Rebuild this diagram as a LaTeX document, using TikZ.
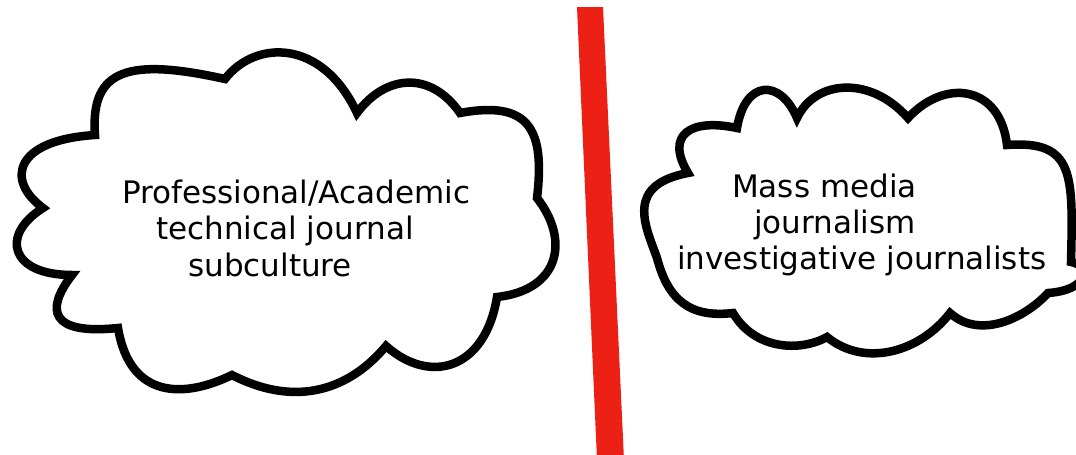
\documentclass[tikz,border=0pt]{standalone}
\usepackage{fontspec}
\setmainfont{DejaVu Sans}
\definecolor{redbar}{RGB}{237,32,22}
\begin{document}
\begin{tikzpicture}[x=1pt,y=-1pt,
  cloudline/.style={draw=black, line width=8.5pt, fill=white, line join=miter},
  cloudtext/.style={font=\fontsize{31}{37}\selectfont, inner sep=0pt, anchor=base west, text=black},
  divider/.style={fill=redbar}]
\useasboundingbox (0,0) rectangle (1076,455);
\fill[white] (0,0) rectangle (1076,455);
\clip (0,0) rectangle (1076,455);

% left cloud
\draw[cloudline] (95,135) .. controls (90,68) and (130,58) .. (225,79)
 .. controls (255,40) and (322,38) .. (357,113)
 .. controls (385,75) and (430,70) .. (460,113)
 .. controls (530,100) and (545,130) .. (537,198)
 .. controls (570,240) and (560,290) .. (497,297)
 .. controls (485,370) and (430,385) .. (386,346)
 .. controls (345,395) and (290,405) .. (232,375)
 .. controls (185,398) and (130,400) .. (118,328)
 .. controls (50,335) and (45,310) .. (72,275)
 .. controls (10,275) and (0,235) .. (43,208)
 .. controls (5,180) and (15,140) .. (95,135) -- cycle;

% right cloud
\draw[cloudline] (688,173) .. controls (665,135) and (690,118) .. (737,128)
 .. controls (745,80) and (780,78) .. (797,118)
 .. controls (815,80) and (870,75) .. (908,118)
 .. controls (945,78) and (1000,85) .. (1007,145)
 .. controls (1075,140) and (1073,175) .. (1071,262)
 .. controls (1090,265) and (1090,290) .. (1048,293)
 .. controls (1025,318) and (980,340) .. (950,313)
 .. controls (920,352) and (865,368) .. (827,337)
 .. controls (800,352) and (755,350) .. (733,313)
 .. controls (690,318) and (668,300) .. (657,258)
 .. controls (645,225) and (625,185) .. (688,173) -- cycle;

% divider
\fill[divider] (577,7) -- (603,7) -- (624,460) -- (597,460) -- cycle;

% texts
\node[cloudtext] (la) at (122,203) {Professional/Academic};
\node[cloudtext] (lb) at (156,239.5) {technical journal};
\node[cloudtext] (lc) at (188,276) {subculture};

\node[cloudtext] (ra) at (732,197) {Mass media};
\node[cloudtext] (rb) at (754,233) {journalism};
\node[cloudtext] (rc) at (677,269) {investigative journalists};
\end{tikzpicture}
\end{document}
